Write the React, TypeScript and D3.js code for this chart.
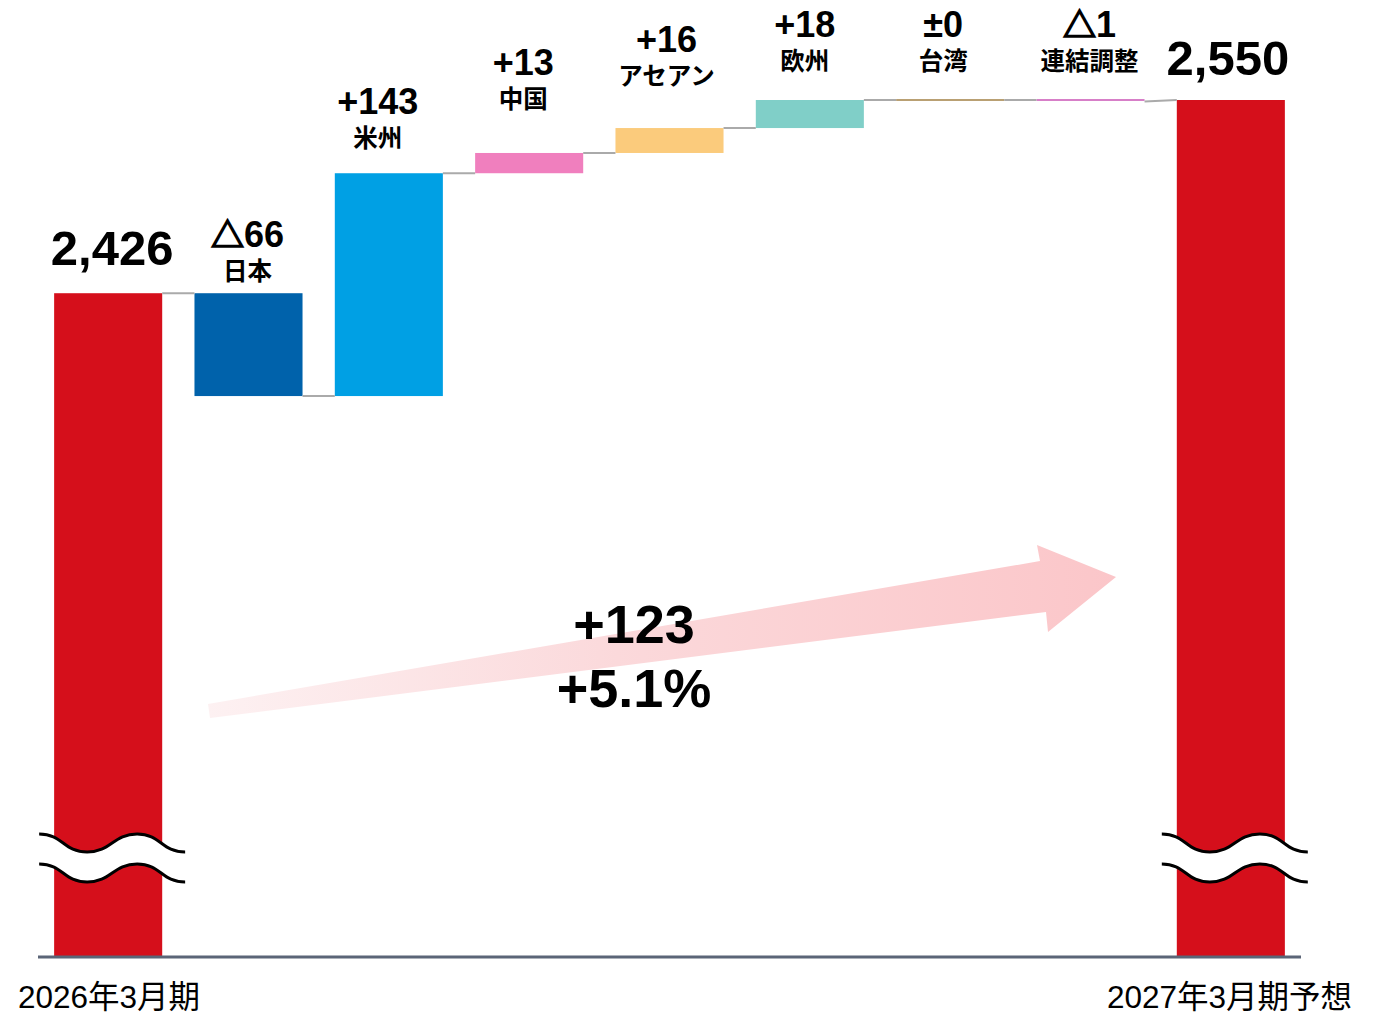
import React from "react";
import * as d3 from "d3";

const categories = ["2026年3月期", "日本", "米州", "中国", "アセアン", "欧州", "台湾", "連結調整", "2027年3月期予想"];
const startValue = 2426;
const endValue = 2550;
const deltaValues = [-66, 143, 13, 16, 18, 0, -1];
const deltaSigns = ["△", "+", "+", "+", "+", "±", "△"];
const deltaNumbers = ["66", "143", "13", "16", "18", "0", "1"];
const totalLabels = ["2,426", "2,550"];
const growthLabels = ["+123", "+5.1%"];
const yDomain = [2000, 2550];

const totalColor = "#d50f1b";
const deltaColors = ["#0062ab", "#00a0e4", "#f07fbe", "#fbcb7c", "#80cfc8", "#b9a073", "#d77fc8"];

// layout (pixel) for labels
const subLabelBaselines = [280, 147, 108, 85, 70, 70, 70];
const labelDx = [-1, -11, -6, -3, -5, -7, -1];

const W = 1380;
const H = 1017;
const FONT = "'Liberation Sans', Arial, 'Noto Sans CJK JP', sans-serif";
const CJK = "'Noto Sans CJK JP', sans-serif";

export default function App() {
  const x = d3.scaleBand<string>().domain(categories).range([38, 1301]).paddingInner(0.23).paddingOuter(0.115);
  const y = d3.scaleLinear().domain(yDomain).range([957, 100]);
  const bw = x.bandwidth();

  const steps: { cat: string; from: number; to: number; color: string; sign: string; num: string }[] = [];
  let cum = startValue;
  deltaValues.forEach((d, i) => {
    steps.push({ cat: categories[i + 1], from: cum, to: cum + d, color: deltaColors[i], sign: deltaSigns[i], num: deltaNumbers[i] });
    cum += d;
  });

  const ends: { x0: number; x1: number; v: number }[] = [];
  ends.push({ x0: x(categories[0])! + bw, x1: x(categories[1])!, v: startValue });
  steps.forEach((s, i) => {
    ends.push({ x0: x(s.cat)! + bw, x1: x(categories[i + 2])!, v: s.to });
  });

  const breakPath = (bx: number) => {
    const x0 = bx - 15;
    const top = (dy: number) =>
      `${x0},${834 + dy} C${x0 + 24},${834 + dy} ${x0 + 24},${852 + dy} ${x0 + 48},${852 + dy} S${x0 + 74},${834 + dy} ${x0 + 98},${834 + dy} S${x0 + 122},${852 + dy} ${x0 + 146},${852 + dy}`;
    const topRev = (dy: number) =>
      `${x0 + 146},${852 + dy} C${x0 + 122},${852 + dy} ${x0 + 122},${834 + dy} ${x0 + 98},${834 + dy} S${x0 + 72},${852 + dy} ${x0 + 48},${852 + dy} S${x0 + 24},${834 + dy} ${x0},${834 + dy}`;
    return {
      fill: `M${top(0)} L${topRev(30)} Z`,
      l1: `M${top(0)}`,
      l2: `M${top(30)}`,
    };
  };

  const sx = x(categories[0])!;
  const ex = x(categories[8])!;

  return (
    <svg width={W} height={H} style={{ position: "absolute", left: 0, top: 0, background: "#fff" }} fontFamily={FONT}>
      <defs>
        <linearGradient id="arrowGrad" x1="0" y1="0" x2="1" y2="0">
          <stop offset="0" stopColor="#fdf1f2" />
          <stop offset="0.45" stopColor="#fbd9db" />
          <stop offset="1" stopColor="#fbc6c9" />
        </linearGradient>
      </defs>

      {/* arrow */}
      <path d="M208,704 L1040,561 L1037,545 L1116,577 L1048,632 L1046,612 L210,718 Z" fill="url(#arrowGrad)" />

      {/* total bars */}
      <rect x={sx} y={y(startValue)} width={bw} height={y(yDomain[0]) - y(startValue)} fill={totalColor} />
      <rect x={ex} y={y(endValue)} width={bw} height={y(yDomain[0]) - y(endValue)} fill={totalColor} />

      {/* delta bars */}
      {steps.map((s) => {
        const y0 = y(Math.max(s.from, s.to));
        const y1 = y(Math.min(s.from, s.to));
        const h = Math.max(2, y1 - y0);
        return <rect key={s.cat} x={x(s.cat)} y={y0 - (y1 - y0 < 2 ? 1 : 0)} width={bw} height={h} fill={s.color} />;
      })}

      {/* connectors */}
      {ends.map((c, i) => {
        const nextTop = i === ends.length - 1 ? endValue : c.v;
        return <line key={i} x1={c.x0} x2={c.x1} y1={y(c.v)} y2={y(nextTop)} stroke="#aaaaaa" strokeWidth={2} />;
      })}

      {/* axis */}
      <line x1={38} x2={1301} y1={957} y2={957} stroke="#5b6577" strokeWidth={3} />

      {/* breaks */}
      {[sx, ex].map((bx, i) => {
        const b = breakPath(bx);
        return (
          <g key={i}>
            <path d={b.fill} fill="#fff" />
            <path d={b.l1} fill="none" stroke="#000" strokeWidth={3} />
            <path d={b.l2} fill="none" stroke="#000" strokeWidth={3} />
          </g>
        );
      })}

      {/* total labels */}
      <text x={sx + bw / 2 + 4} y={265} textAnchor="middle" fontSize={49} fontWeight="bold" fill="#000">
        {totalLabels[0]}
      </text>
      <text x={ex + bw / 2 - 3} y={75} textAnchor="middle" fontSize={49} fontWeight="bold" fill="#000">
        {totalLabels[1]}
      </text>

      {/* delta labels */}
      {steps.map((s, i) => {
        const cx = x(s.cat)! + bw / 2 + labelDx[i];
        return (
          <g key={s.cat}>
            <text x={cx} y={subLabelBaselines[i] - 33} textAnchor="middle" fontSize={36} fontWeight="bold" fill="#000">
              {s.sign === "△" ? (
                <tspan fontFamily={CJK} fontSize={33} stroke="#000" strokeWidth={1.6}>
                  {s.sign}
                </tspan>
              ) : (
                <tspan>{s.sign}</tspan>
              )}
              <tspan>{s.num}</tspan>
            </text>
            <text x={cx} y={subLabelBaselines[i]} textAnchor="middle" fontSize={24.5} fontWeight="bold" fill="#000" fontFamily={CJK}>
              {s.cat}
            </text>
          </g>
        );
      })}

      {/* growth labels */}
      <text x={634} y={643} textAnchor="middle" fontSize={54} fontWeight="bold" fill="#000">
        {growthLabels[0]}
      </text>
      <text x={634} y={707} textAnchor="middle" fontSize={54} fontWeight="bold" fill="#000">
        {growthLabels[1]}
      </text>

      {/* category labels */}
      <text x={18} y={1008} fontSize={31.5} fill="#000">
        {categories[0]}
      </text>
      <text x={1352} y={1008} textAnchor="end" fontSize={31.5} fill="#000">
        {categories[8]}
      </text>
    </svg>
  );
}
